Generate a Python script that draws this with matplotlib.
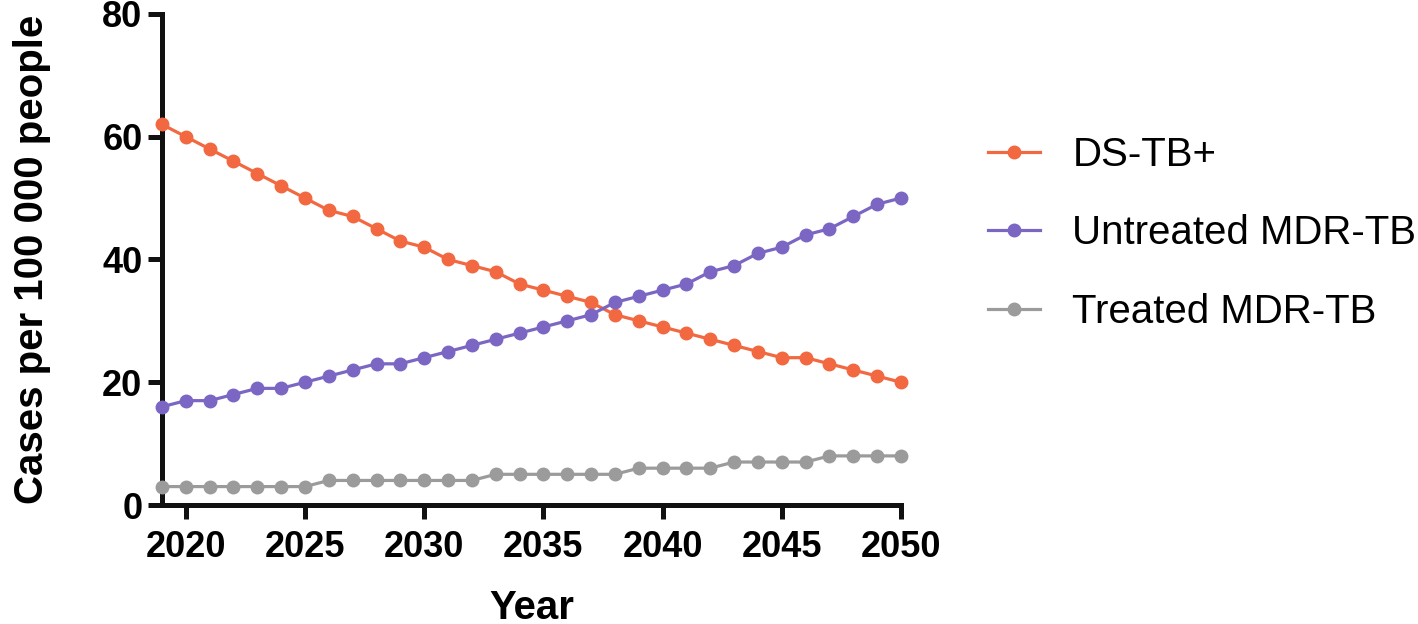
import numpy as np
import matplotlib
matplotlib.use("Agg")
import matplotlib.pyplot as plt

years = list(range(2019, 2051))
ds_tb = [62, 60, 58, 56, 54, 52, 50, 48, 47, 45, 43, 42, 40, 39, 38, 36,
         35, 34, 33, 31, 30, 29, 28, 27, 26, 25, 24, 24, 23, 22, 21, 20]
untreated_mdr = [16, 17, 17, 18, 19, 19, 20, 21, 22, 23, 23, 24, 25, 26, 27, 28,
                 29, 30, 31, 33, 34, 35, 36, 38, 39, 41, 42, 44, 45, 47, 49, 50]
treated_mdr = [3, 3, 3, 3, 3, 3, 3, 4, 4, 4, 4, 4, 4, 4, 5, 5,
               5, 5, 5, 5, 6, 6, 6, 6, 7, 7, 7, 7, 8, 8, 8, 8]
labels = ["DS-TB+", "Untreated MDR-TB", "Treated MDR-TB"]
colors = ["#F26840", "#7B66C4", "#9B9B9B"]
x_ticks = [2020, 2025, 2030, 2035, 2040, 2045, 2050]
y_ticks = [0, 20, 40, 60, 80]

plt.rcParams["font.family"] = ["Liberation Sans", "DejaVu Sans"]

fig = plt.figure(figsize=(14.18, 6.24), dpi=100)
ax = fig.add_axes([0.1142, 0.1907, 0.5212, 0.787])

for series, lab, col in zip([ds_tb, untreated_mdr, treated_mdr], labels, colors):
    ax.plot(years, series, "-o", color=col, lw=2.3, markersize=9, label=lab, clip_on=False, zorder=3)

ax.set_xlim(2019, 2050)
ax.set_ylim(0, 80)
ax.set_xticks(x_ticks)
ax.set_yticks(y_ticks)
for s in ["top", "right"]:
    ax.spines[s].set_visible(False)
for s in ["left", "bottom"]:
    ax.spines[s].set_linewidth(3.6)
    ax.spines[s].set_color("#111111")
ax.tick_params(width=3.6, length=10, labelsize=26, color="#111111")
ax.tick_params(axis="x", pad=8)
ax.tick_params(axis="y", pad=4)
for t in ax.get_xticklabels() + ax.get_yticklabels():
    t.set_fontweight("bold")
ax.set_xlabel("Year", fontsize=29, fontweight="bold", labelpad=17)
ax.set_ylabel("Cases per 100 000 people", fontsize=29, fontweight="bold", labelpad=37)

fig.legend(loc="center left", bbox_to_anchor=(0.671, 0.626), frameon=False,
           fontsize=29, handlelength=1.3, labelspacing=1.0, handletextpad=0.8)

fig.savefig("out.png", dpi=100)
